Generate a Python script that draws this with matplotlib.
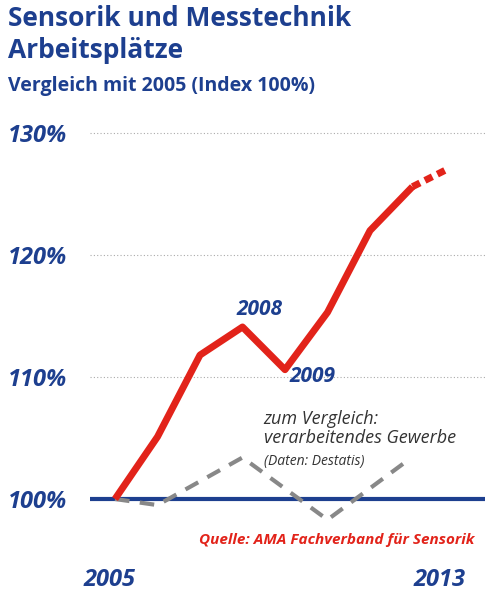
import matplotlib
matplotlib.use("Agg")
import matplotlib.pyplot as plt

years = [2005, 2006, 2007, 2008, 2009, 2010, 2011, 2012]
sensor = [100, 105.1, 111.8, 114.1, 110.6, 115.3, 122.0, 125.6]
proj_years = [2012, 2012.8]
proj_vals = [125.6, 127.0]
cmp_years = [2005, 2006, 2008, 2010, 2011.9]
cmp_vals = [100, 99.5, 103.4, 98.3, 103.2]
yticks = [100, 110, 120, 130]
ylabels = ["100%", "110%", "120%", "130%"]

blue = "#1d3f8f"
red = "#e2231a"
plt.rcParams['font.family'] = ['Open Sans', 'DejaVu Sans']

fig = plt.figure(figsize=(5, 6), dpi=100)
W, H = 500, 600
l, r, t, b = 90, 485, 120, 530
ax = fig.add_axes([l / W, 1 - b / H, (r - l) / W, (b - t) / H])
ax.set_xlim(2005 - 25 / 42.5, 2005 + 370 / 42.5)
ax.set_ylim(100 - 31 / 12.2, 100 + 379 / 12.2)
for s in ax.spines.values():
    s.set_visible(False)
ax.set_xticks([])
ax.set_yticks(yticks)
ax.set_yticklabels(ylabels, ha='left', fontsize=17, fontweight='bold', style='italic', color=blue)
ax.tick_params(axis='y', length=0, pad=59)
for v in yticks[1:]:
    ax.axhline(v, color='#aaaaaa', lw=0.8, ls=(0, (1, 2)))
ax.axhline(100, color=blue, lw=3, zorder=2)

ax.plot(cmp_years, cmp_vals, color='#888888', lw=3, ls=(0, (3.5, 2.5)), zorder=3)
ax.plot(years, sensor, color=red, lw=5, solid_capstyle='butt', zorder=4)
ax.plot(proj_years, proj_vals, color=red, lw=5, ls=(0, (1.2, 0.8)), zorder=4)

ax.text(2008.4, 114.7, "2008", fontsize=15, fontweight='bold', style='italic', color=blue, ha='center', va='bottom')
ax.text(2009.1, 110.9, "2009", fontsize=15, fontweight='bold', style='italic', color=blue, ha='left', va='top')
ax.text(2008.5, 107.3, "zum Vergleich:\nverarbeitendes Gewerbe", fontsize=13, style='italic', color='#333333', ha='left', va='top', linespacing=1.1)
ax.text(2008.5, 103.7, "(Daten: Destatis)", fontsize=10, style='italic', color='#333333', ha='left', va='top')
ax.text(2013.45, 96.6, "Quelle: AMA Fachverband für Sensorik", fontsize=11, fontweight='bold', style='italic', color=red, ha='right', va='center')

fig.text(8 / W, 1 - 18 / H, "Sensorik und Messtechnik", fontsize=19, fontweight='bold', color=blue, va='center')
fig.text(8 / W, 1 - 50 / H, "Arbeitsplätze", fontsize=19, fontweight='bold', color=blue, va='center')
fig.text(8 / W, 1 - 86 / H, "Vergleich mit 2005 (Index 100%)", fontsize=14, fontweight='bold', color=blue, va='center')
fig.text(110 / W, 1 - 580 / H, "2005", fontsize=17, fontweight='bold', style='italic', color=blue, ha='center', va='center')
fig.text(440 / W, 1 - 580 / H, "2013", fontsize=17, fontweight='bold', style='italic', color=blue, ha='center', va='center')

fig.savefig("out.png", dpi=100)
